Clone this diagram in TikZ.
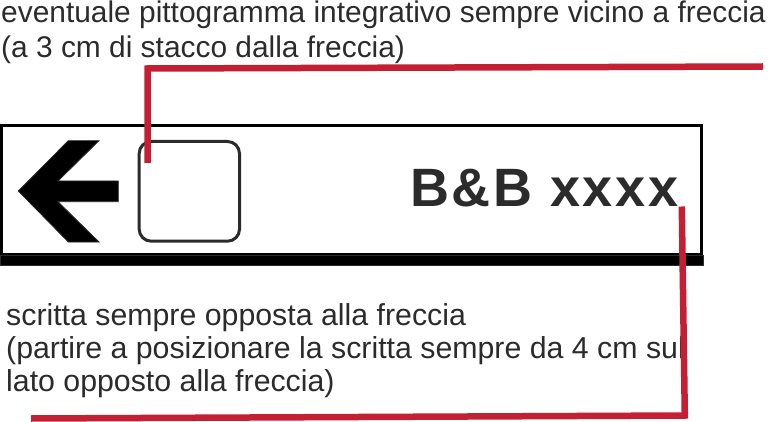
\documentclass[tikz,border=0pt]{standalone}
\usepackage{fontspec}
\setmainfont{Liberation Sans}
\definecolor{leadred}{RGB}{196,32,52}
\definecolor{ink}{RGB}{43,43,43}
\begin{document}
\begin{tikzpicture}[x=1pt,y=-1pt,
  txt/.style={anchor=base west,inner sep=0pt,text=ink,font=\fontsize{29.9}{33}\selectfont},
  txtb/.style={anchor=base west,inner sep=0pt,text=ink,font=\fontsize{30.3}{33}\selectfont},
  leader/.style={draw=leadred,line width=6.5pt,line join=miter,line cap=butt},
  frame/.style={draw=black,line width=3.2pt},
  pict/.style={draw=ink,line width=3pt,rounded corners=12pt}]
\useasboundingbox (0,0) rectangle (773,422);
% sign panel
\draw[frame] (1.6,125.7) rectangle (701.6,255);
\filldraw[fill=black,draw=ink,line width=1pt] (0.5,255) rectangle (703.3,265.3);
% arrow
\filldraw[fill=black,draw=ink,line width=0.8pt,line join=miter]
  (18.3,191) -- (68.3,140.7) -- (99,140.7) -- (58,181) -- (118.3,181)
  -- (118.3,201.7) -- (58,201.7) -- (99,242) -- (68.3,242) -- cycle;
% pictogram placeholder
\draw[pict] (139.2,141.5) rectangle (239.5,241.2);
% sign text
\node[anchor=base west,inner sep=0pt,text=ink,
  font=\fontsize{54}{60}\selectfont\bfseries\addfontfeature{LetterSpace=5}]
  (sign) at (410,206.7) {B\&B xxxx};
% top annotation
\node[txt] (t1) at (1,22.7) {eventuale pittogramma integrativo sempre vicino a freccia};
\node[txt] (t2) at (1,57.3) {(a 3 cm di stacco dalla freccia)};
% bottom annotation
\node[txtb] (b1) at (6,325) {scritta sempre opposta alla freccia};
\node[txtb] (b2) at (6,358.5) {(partire a posizionare la scritta sempre da 4 cm sul};
\node[txtb] (b3) at (6,391.5) {lato opposto alla freccia)};
% leaders
\coordinate (pA) at (147.5,163);
\coordinate (pB) at (147.5,68.5);
\coordinate (pC) at (763,66.5);
\draw[leader] (pA) -- (pB) -- (pC);
\coordinate (sA) at (681.8,206.5);
\coordinate (sB) at (684.8,415.5);
\coordinate (sC) at (31,418.5);
\draw[leader] (sA) -- (sB) -- (sC);
\end{tikzpicture}
\end{document}
